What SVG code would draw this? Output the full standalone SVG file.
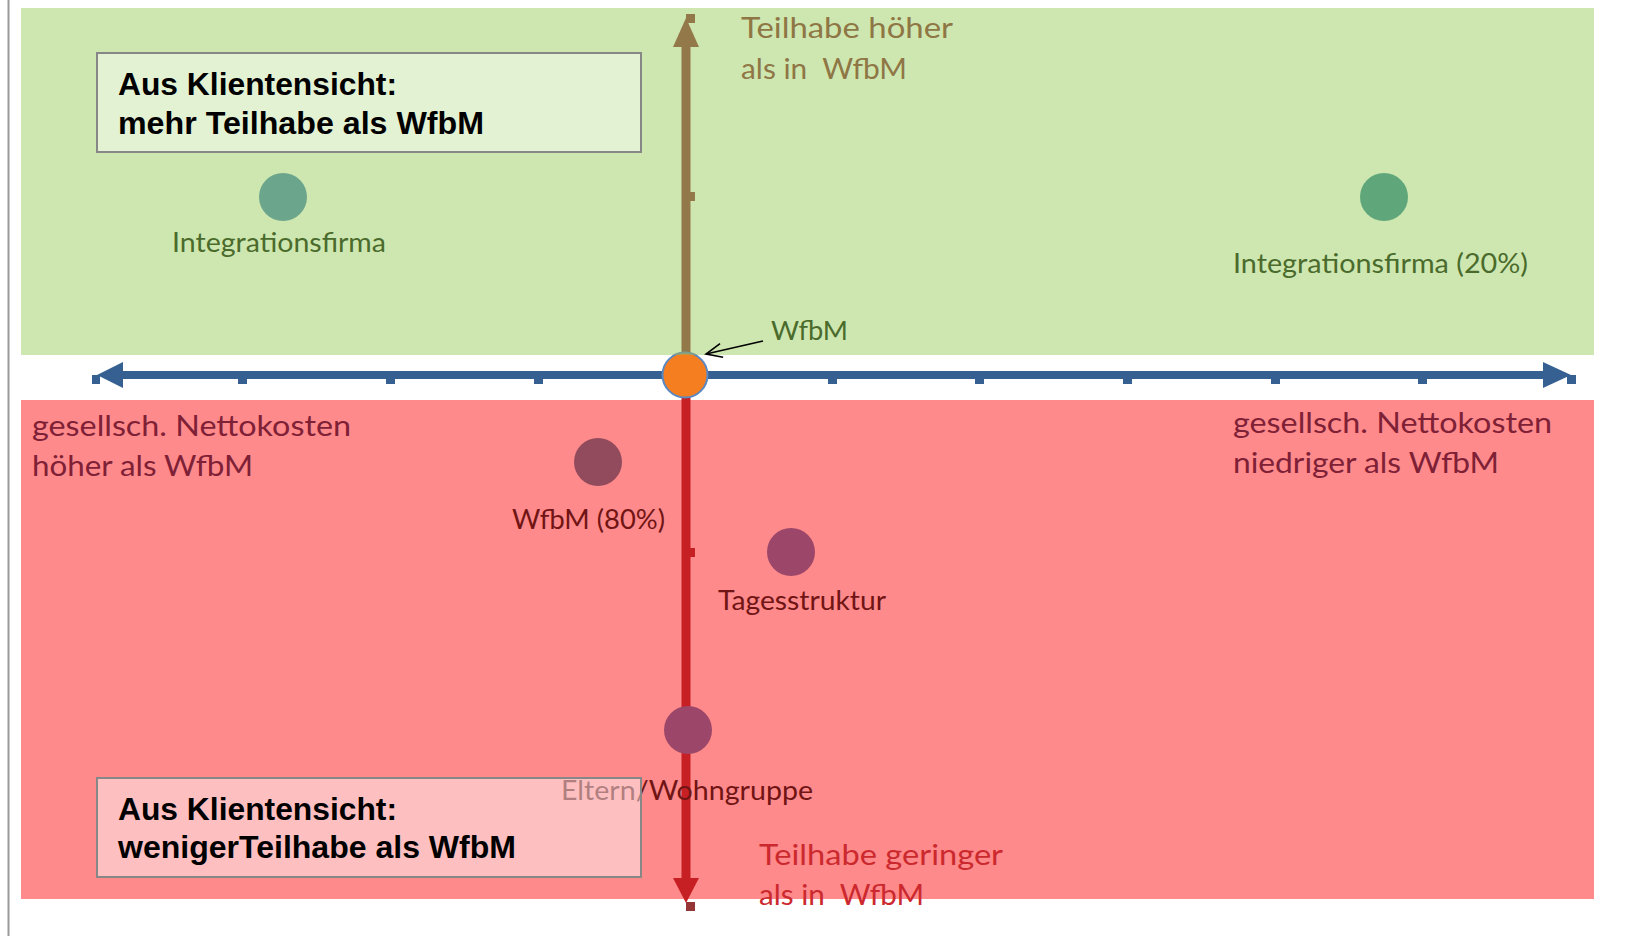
<svg xmlns="http://www.w3.org/2000/svg" width="1652" height="936" viewBox="0 0 1652 936">
<defs>
<style>
.lbl{font-family:Lato,"Open Sans","DejaVu Sans",sans-serif;}
.bx text{font-family:"Liberation Sans",Arial,sans-serif;font-weight:bold;font-size:32px;fill:#000;}
.bxr{fill:#ffffff;fill-opacity:0.46;stroke:#878787;stroke-width:2;}
.dot{stroke:none;}
.brown{fill:#8F7645;}
.dgreen{fill:#4A6B2C;}
.dred{fill:#7E2036;}
.mred{fill:#701414;}
.lred{fill:#CC292E;}
</style>
<marker id="vhead" viewBox="0 0 20 20" refX="18" refY="10" markerWidth="20" markerHeight="20" markerUnits="userSpaceOnUse" orient="auto">
<path d="M2,3 L18,10 L2,17" fill="none" stroke="#000" stroke-width="1.6"/>
</marker>
<clipPath id="capclip"><rect x="600" y="340" width="170" height="15"/></clipPath>
</defs>
<rect x="0" y="0" width="1652" height="936" fill="#ffffff"/>
<line x1="8.5" y1="0" x2="8.5" y2="936" stroke="#9A9A9A" stroke-width="2"/>
<g id="regions">
<rect x="21" y="8" width="1573" height="347" fill="#CEE7B0"/>
<rect x="21" y="400" width="1573" height="499" fill="#FE8A8B"/>
</g>
<g id="connectors">
<g id="x-axis" fill="#376092">
<rect x="123" y="371" width="1420" height="8"/>
<polygon points="123,362 123,388 97,375"/>
<polygon points="1543,362 1543,388 1571,375"/>
<rect x="92" y="375" width="8" height="9"/>
<rect x="1567" y="375" width="9" height="9"/>
<rect x="238" y="375" width="9" height="9"/>
<rect x="386" y="375" width="9" height="9"/>
<rect x="534" y="375" width="9" height="9"/>
<rect x="828" y="375" width="9" height="9"/>
<rect x="975" y="375" width="9" height="9"/>
<rect x="1123" y="375" width="9" height="9"/>
<rect x="1271" y="375" width="9" height="9"/>
<rect x="1418" y="375" width="9" height="9"/>
</g>
<g id="y-axis-up" fill="#93794A">
<rect x="681.5" y="46" width="9" height="330"/>
<polygon points="673,47 699,47 686,18"/>
<rect x="686" y="14" width="9" height="9"/>
<rect x="686" y="192" width="9" height="9"/>
</g>
<g id="y-axis-down" fill="#C62024">
<rect x="681.5" y="375" width="9" height="504"/>
<polygon points="673,878 699,878 686,903"/>
<rect x="686" y="902" width="9" height="9" fill="#963536"/>
<rect x="686" y="548" width="9" height="9"/>
</g>
<line id="wfbm-pointer" x1="763" y1="341" x2="706" y2="354" stroke="#000" stroke-width="1.6" marker-end="url(#vhead)"/>
</g>
<g id="axis-labels" class="lbl">
<text class="brown" x="741" y="38" font-size="28" textLength="212" lengthAdjust="spacingAndGlyphs">Teilhabe höher</text>
<text class="brown" x="741" y="79" font-size="28" textLength="166" lengthAdjust="spacingAndGlyphs" xml:space="preserve">als in  WfbM</text>
<text class="dred" x="32" y="436" font-size="28" textLength="319" lengthAdjust="spacingAndGlyphs">gesellsch. Nettokosten</text>
<text class="dred" x="32" y="476" font-size="28" textLength="221" lengthAdjust="spacingAndGlyphs">höher als WfbM</text>
<text class="dred" x="1233" y="433" font-size="28" textLength="319" lengthAdjust="spacingAndGlyphs">gesellsch. Nettokosten</text>
<text class="dred" x="1233" y="473" font-size="28" textLength="266" lengthAdjust="spacingAndGlyphs">niedriger als WfbM</text>
<text class="lred" x="759" y="865" font-size="28" textLength="244" lengthAdjust="spacingAndGlyphs">Teilhabe geringer</text>
<text class="lred" x="759" y="905" font-size="28" textLength="165" lengthAdjust="spacingAndGlyphs" xml:space="preserve">als in  WfbM</text>
</g>
<g id="node-wfbm">
<circle cx="685" cy="375" r="22.5" fill="#F47E20" stroke="#5A88C2" stroke-width="2"/>
<circle cx="685" cy="375" r="23.5" fill="#9AB060" fill-opacity="0.55" clip-path="url(#capclip)"/>
<text class="lbl dgreen" x="771" y="340" font-size="26.5" textLength="77" lengthAdjust="spacingAndGlyphs">WfbM</text>
</g>
<g id="node-integrationsfirma">
<circle class="dot" cx="283" cy="197" r="24" fill="#6BA58B"/>
<text class="lbl dgreen" x="172" y="252" font-size="26" textLength="214" lengthAdjust="spacingAndGlyphs">Integrationsfirma</text>
</g>
<g id="node-integrationsfirma-20">
<circle class="dot" cx="1384" cy="197" r="24" fill="#5FA77B"/>
<text class="lbl dgreen" x="1233" y="273" font-size="27" textLength="295" lengthAdjust="spacingAndGlyphs">Integrationsfirma (20%)</text>
</g>
<g id="node-wfbm-80">
<circle class="dot" cx="598" cy="462" r="24" fill="#924B5D"/>
<text class="lbl mred" x="512" y="529" font-size="26" textLength="153" lengthAdjust="spacingAndGlyphs">WfbM (80%)</text>
</g>
<g id="node-tagesstruktur">
<circle class="dot" cx="791" cy="552" r="24" fill="#9C4769"/>
<text class="lbl mred" x="718" y="610" font-size="26" textLength="168" lengthAdjust="spacingAndGlyphs">Tagesstruktur</text>
</g>
<g id="node-eltern-wohngruppe">
<circle class="dot" cx="688" cy="730" r="24" fill="#9C4769"/>
<text class="lbl mred" x="561" y="800" font-size="26" textLength="252" lengthAdjust="spacingAndGlyphs">Eltern/Wohngruppe</text>
</g>
<g id="box-mehr" class="bx">
<rect class="bxr" x="97" y="53" width="544" height="99"/>
<text x="118" y="95" textLength="279" lengthAdjust="spacingAndGlyphs">Aus Klientensicht:</text>
<text x="118" y="134" textLength="366" lengthAdjust="spacingAndGlyphs">mehr Teilhabe als WfbM</text>
</g>
<g id="box-weniger" class="bx">
<rect class="bxr" x="97" y="778" width="544" height="99"/>
<text x="118" y="820" textLength="279" lengthAdjust="spacingAndGlyphs">Aus Klientensicht:</text>
<text x="118" y="858" textLength="398" lengthAdjust="spacingAndGlyphs">wenigerTeilhabe als WfbM</text>
</g>
</svg>
